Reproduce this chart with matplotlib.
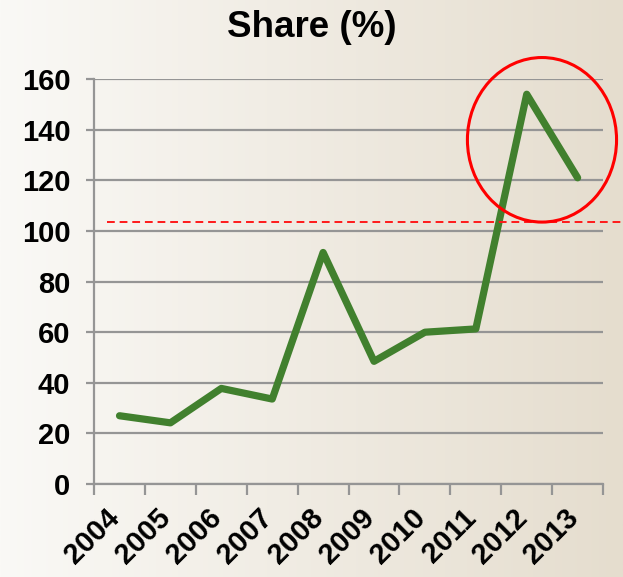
import numpy as np
import matplotlib
matplotlib.use("Agg")
import matplotlib.pyplot as plt
from matplotlib.patches import Ellipse
import matplotlib.transforms as mtransforms

plt.rcParams['font.family'] = ['Liberation Sans', 'DejaVu Sans']

years = ['2004', '2005', '2006', '2007', '2008', '2009', '2010', '2011', '2012', '2013']
share = [27.0, 24.2, 37.8, 33.6, 91.5, 48.5, 60.0, 61.3, 154.0, 121.0]
threshold = 103.5
y_ticks = [0, 20, 40, 60, 80, 100, 120, 140, 160]

fig = plt.figure(figsize=(6.23, 5.77), dpi=100)

# background gradient
bg = fig.add_axes([0, 0, 1, 1], zorder=-10)
left_c = np.array([250, 249, 246]) / 255
right_c = np.array([229, 221, 206]) / 255
t = np.linspace(0, 1, 256)[None, :, None]
grad = left_c[None, None, :] * (1 - t) + right_c[None, None, :] * t
bg.imshow(grad, aspect='auto', extent=[0, 1, 0, 1])
bg.axis('off')

ax = fig.add_axes([0.151, 0.161, 0.817, 0.702])
ax.set_facecolor('none')

x = np.arange(len(years))
ax.plot(x, share, color='#41802e', lw=5.2, solid_capstyle='round', solid_joinstyle='round', zorder=3)

ax.set_xlim(-0.5, len(years) - 0.5)
ax.set_ylim(0, 160)
ax.set_yticks(y_ticks)
ax.set_yticklabels([str(v) for v in y_ticks], fontsize=21, fontweight='bold')
ax.yaxis.grid(True, color='#959595', lw=1.6)
ax.set_axisbelow(True)

ax.set_xticks(np.arange(-0.5, len(years), 1.0))
ax.set_xticklabels([])
ax.set_xticks(x, minor=True)
ax.set_xticklabels(years, minor=True, rotation=45, ha='right', va='top',
                   fontsize=21, fontweight='bold')
ax.tick_params(axis='x', which='minor', length=0, pad=14)
ax.tick_params(axis='x', which='major', length=8, width=1.6, color='#959595', direction='out')
ax.tick_params(axis='y', length=6, width=1.6, color='#959595', direction='out', pad=11)
for lab in ax.get_xticklabels(minor=True):
    lab.set_transform(lab.get_transform() + mtransforms.ScaledTranslation(6/100, 0, fig.dpi_scale_trans))

for s in ['top', 'right']:
    ax.spines[s].set_visible(False)
for s in ['left', 'bottom']:
    ax.spines[s].set_color('#959595')
    ax.spines[s].set_linewidth(1.6)

# threshold dashed line extending beyond axes
trans = mtransforms.blended_transform_factory(ax.transAxes, ax.transData)
ax.plot([0.026, 1.05], [threshold, threshold], transform=trans, color='#ff1a1a',
        lw=1.4, ls=(0, (4, 2.5)), clip_on=False, zorder=4)

# highlight ellipse
ell = Ellipse((8.3, 136.0), width=2.93, height=65, fill=False, edgecolor='#ff0000',
              lw=2.2, clip_on=False, zorder=5)
ax.add_patch(ell)

fig.text(0.5, 0.953, 'Share (%)', ha='center', va='center', fontsize=26.5, fontweight='bold')

fig.savefig('out.png', dpi=100)
